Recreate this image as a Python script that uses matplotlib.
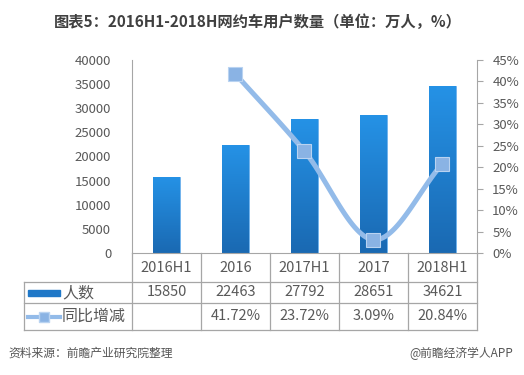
import numpy as np
import matplotlib
matplotlib.use("Agg")
import matplotlib.pyplot as plt
from matplotlib.colors import LinearSegmentedColormap

plt.rcParams['font.family'] = ['Noto Sans CJK SC', 'DejaVu Sans']

categories = ['2016H1', '2016', '2017H1', '2017', '2018H1']
users = [15850, 22463, 27792, 28651, 34621]
growth = [None, 41.72, 23.72, 3.09, 20.84]
growth_labels = ['', '41.72%', '23.72%', '3.09%', '20.84%']
left_ticks = [0, 5000, 10000, 15000, 20000, 25000, 30000, 35000, 40000]
right_ticks = [0, 5, 10, 15, 20, 25, 30, 35, 40, 45]

title = '图表5：2016H1-2018H网约车用户数量（单位：万人，%）'
source = '资料来源：前瞻产业研究院整理'
credit = '@前瞻经济学人APP'

W, H = 524, 375
fig = plt.figure(figsize=(W / 100, H / 100), dpi=100)
ax = fig.add_axes([132 / W, 1 - 253 / H, (477 - 132) / W, (253 - 60) / H])

axcol = '#a6a6a6'
txtcol = '#595959'
x = np.arange(len(categories))

# bars with a vertical gradient
bars = ax.bar(x, users, width=0.39, color='#1f7fd0', edgecolor='#6fb3ee', linewidth=0.6, zorder=2)
grad = LinearSegmentedColormap.from_list('g', ['#1a69b2', '#2592e6'])
for b in bars:
    bx, bw, bh = b.get_x(), b.get_width(), b.get_height()
    im = ax.imshow(np.linspace(0, 1, 100).reshape(-1, 1), cmap=grad, origin='lower',
                   extent=[bx, bx + bw, 0, bh], aspect='auto', zorder=2.1)
    im.set_clip_path(b)

ax.set_xlim(-0.5, len(categories) - 0.5)
ax.set_ylim(0, 40000)
ax.set_yticks(left_ticks)
ax.set_yticklabels([str(v) for v in left_ticks])
ax.tick_params(axis='y', length=0, pad=15, labelsize=9.5, labelcolor=txtcol)
ax.set_xticks([])
for s in ['top', 'right']:
    ax.spines[s].set_visible(False)
ax.spines['left'].set_color(axcol)
ax.spines['bottom'].set_color(axcol)

# secondary axis: growth line (smoothed like Excel)
ax2 = ax.twinx()
ax2.set_ylim(0, 45)
ax2.set_yticks(right_ticks)
ax2.set_yticklabels([f'{v}%' for v in right_ticks])
ax2.tick_params(axis='y', length=4, color=axcol, pad=7, labelsize=9.5, labelcolor=txtcol)
for s in ['top', 'left', 'bottom']:
    ax2.spines[s].set_visible(False)
ax2.spines['right'].set_color(axcol)

gx = np.array([i for i, g in enumerate(growth) if g is not None], dtype=float)
gy = np.array([g for g in growth if g is not None], dtype=float)
px = np.concatenate([[2 * gx[0] - gx[1]], gx, [2 * gx[-1] - gx[-2]]])
py = np.concatenate([[2 * gy[0] - gy[1]], gy, [2 * gy[-1] - gy[-2]]])
sx, sy = [], []
t = np.linspace(0, 1, 40)
for i in range(1, len(px) - 2):
    p0, p1, p2, p3 = [np.array([px[j], py[j]]) for j in range(i - 1, i + 3)]
    c1 = p1 + (p2 - p0) / 6
    c2 = p2 - (p3 - p1) / 6
    pts = ((1 - t) ** 3)[:, None] * p1 + (3 * (1 - t) ** 2 * t)[:, None] * c1 \
        + (3 * (1 - t) * t ** 2)[:, None] * c2 + (t ** 3)[:, None] * p2
    sx.extend(pts[:, 0]); sy.extend(pts[:, 1])
ax2.plot(sx, sy, color='#93bbe9', lw=3.6, solid_capstyle='round', zorder=3)
ax2.plot(gx, gy, ls='none', marker='s', ms=9.5, mfc='#8ab3e4', mec='#b9d3f1', mew=0.8, zorder=4)

# data table below the chart
tr = ax.get_xaxis_transform()
ph = 253 - 60
row_y = [0, -(282 - 253) / ph, -(303 - 253) / ph, -(330 - 253) / ph]
xl = -0.5 - (132 - 24) / 69.0
xr = len(categories) - 0.5
lk = dict(color=axcol, lw=0.9, transform=tr, clip_on=False)
for yy in row_y[1:]:
    ax.plot([xl, xr], [yy, yy], **lk)
ax.plot([xl, xl], [row_y[1], row_y[3]], **lk)
for b in np.arange(-0.5, len(categories), 1.0):
    ax.plot([b, b], [0, row_y[3]], **lk)

mid = [(row_y[i] + row_y[i + 1]) / 2 for i in range(3)]
for i, c in enumerate(categories):
    ax.text(i, mid[0], c, transform=tr, ha='center', va='center', fontsize=10.5, color=txtcol)
    ax.text(i, mid[1], str(users[i]), transform=tr, ha='center', va='center', fontsize=10.5, color=txtcol)
    ax.text(i, mid[2], growth_labels[i], transform=tr, ha='center', va='center', fontsize=10.5, color=txtcol)

# legend keys inside the table
kx0 = xl + 4 / 69.0
kx1 = xl + 36 / 69.0
kh = 6 / ph
ax.add_patch(plt.Rectangle((kx0, mid[1] - kh / 2), kx1 - kx0, kh, transform=tr,
                           color='#1f78c8', clip_on=False))
ax.plot([kx0, kx1], [mid[2], mid[2]], color='#93bbe9', lw=3, transform=tr, clip_on=False)
ax.plot([(kx0 + kx1) / 2], [mid[2]], marker='s', ms=7, mfc='#8ab3e4', mec='#b9d3f1',
        transform=tr, clip_on=False)
ax.text(kx1 + 2 / 69.0, mid[1], '人数', transform=tr, ha='left', va='center', fontsize=11.5, color=txtcol)
ax.text(kx1 + 2 / 69.0, mid[2], '同比增减', transform=tr, ha='left', va='center', fontsize=11.5, color=txtcol)

fig.text(258 / W, 1 - 22 / H, title, ha='center', va='center', fontsize=11,
         fontweight='bold', color='#404040')
fig.text(8 / W, 1 - 353 / H, source, ha='left', va='center', fontsize=8.5, color='#555555')
fig.text(513 / W, 1 - 353 / H, credit, ha='right', va='center', fontsize=8.5, color='#555555')

fig.savefig('out.png', dpi=100)
